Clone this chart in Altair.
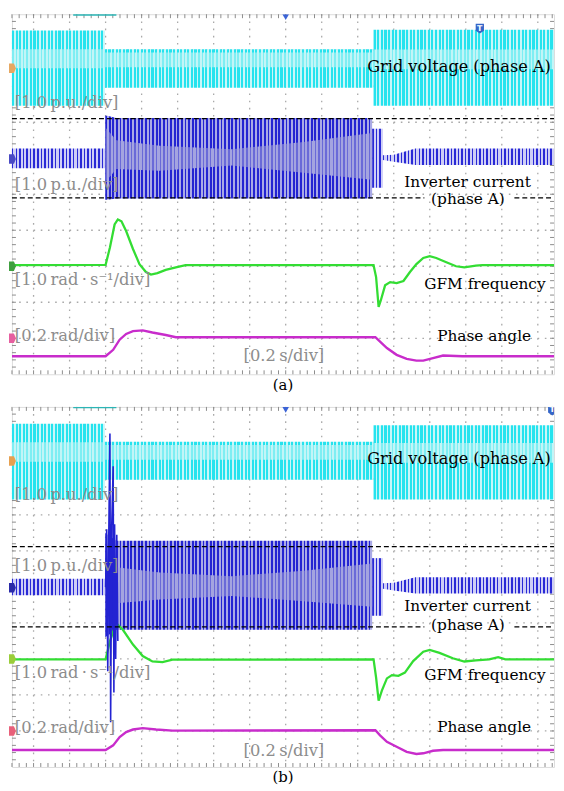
import altair as alt
import pandas as pd

# x in scope divisions (0.2 s/div), y in screen divisions (0 = bottom, 10 = top)
X0, X1 = -0.6, 14.45
W, H = 548, 364

# ---------------- grid voltage (phase A) envelopes, centre 8.5 div ----------
gv_x0 = [-0.6, 1.98, 9.44]
gv_x1 = [1.98, 9.44, 14.45]
gv_hi_a = [9.55, 9.03, 9.57]
gv_lo_a = [7.46, 7.96, 7.46]
gv_in_hi_a = [9.03, 8.94, 9.02]
gv_in_lo_a = [8.50, 8.53, 8.47]
gv_hi_b = [9.53, 9.03, 9.49]
gv_lo_b = [7.43, 7.98, 7.43]
gv_in_hi_b = [9.02, 8.94, 9.00]
gv_in_lo_b = [8.48, 8.53, 8.45]

# ---------------- inverter current envelopes ----------------------------------
ic_a = {
    "pre":   {"x": [-0.6, 1.99], "hi": [6.27, 6.27], "lo": [5.72, 5.72]},
    "fault": {"x": [1.99, 2.05, 2.3, 9.40], "hi": [7.18, 7.18, 7.12, 7.12], "lo": [4.85, 4.85, 4.88, 4.88]},
    "tail":  {"x": [9.40, 9.70], "hi": [6.82, 6.82], "lo": [5.18, 5.18]},
    "post":  {"x": [9.70, 10.0, 10.6, 14.45], "hi": [6.08, 6.10, 6.27, 6.27], "lo": [5.95, 5.90, 5.81, 5.81]},
}
ic_in_a = {"x": [2.0, 2.3, 3.5, 5.5, 7.5, 9.4],
           "hi": [6.85, 6.50, 6.35, 6.25, 6.45, 6.70],
           "lo": [5.35, 5.70, 5.65, 5.80, 5.60, 5.40]}
ic_b = {
    "pre":   {"x": [-0.6, 1.99], "hi": [5.23, 5.23], "lo": [4.77, 4.77]},
    "fault": {"x": [1.99, 2.3, 9.40], "hi": [6.5, 6.28, 6.28], "lo": [3.6, 3.81, 3.81]},
    "tail":  {"x": [9.40, 9.70], "hi": [5.8, 5.8], "lo": [4.2, 4.2]},
    "post":  {"x": [9.70, 10.0, 10.6, 14.45], "hi": [5.10, 5.12, 5.27, 5.27], "lo": [4.95, 4.90, 4.82, 4.82]},
}
ic_in_b = {"x": [2.3, 3.5, 5.5, 7.5, 9.4],
           "hi": [5.55, 5.40, 5.30, 5.45, 5.65],
           "lo": [4.55, 4.65, 4.75, 4.60, 4.45]}
spike_x = [2.0, 2.03, 2.06, 2.09, 2.12, 2.14, 2.17, 2.21, 2.23, 2.25, 2.28, 2.31, 2.34]
spike_y = [5.0, 6.6, 2.66, 6.6, 9.26, 1.24, 6.7, 8.35, 2.07, 6.74, 3.0, 6.45, 3.5]

# ---------------- GFM frequency (centre 3.0 div) ------------------------------
fq_x_a = [-0.6, 2.0, 2.12, 2.25, 2.34, 2.44, 2.57, 2.76, 2.94, 3.12, 3.26, 3.44, 3.67, 3.95, 4.22,
          9.44, 9.51, 9.58, 9.64, 9.76, 9.90, 10.08, 10.27, 10.45, 10.63, 10.82, 11.0, 11.18, 11.46,
          11.73, 11.96, 12.28, 12.46, 14.45]
fq_y_a = [3.03, 3.04, 3.52, 4.16, 4.30, 4.25, 3.98, 3.48, 3.06, 2.84, 2.77, 2.81, 2.90, 2.97, 3.03,
          3.03, 2.70, 1.87, 2.05, 2.47, 2.56, 2.53, 2.59, 2.84, 3.06, 3.23, 3.28, 3.23, 3.11,
          3.00, 2.97, 3.02, 3.03, 3.03]
fq_x_b = [-0.6, 2.0, 2.12, 2.25, 2.34, 2.48, 2.76, 3.03, 3.30, 3.58, 3.86,
          9.44, 9.51, 9.58, 9.67, 9.81, 9.95, 10.13, 10.31, 10.54, 10.82, 11.0, 11.27, 11.64,
          11.96, 12.28, 12.65, 12.9, 13.1, 14.45]
fq_y_b = [2.99, 2.99, 3.49, 3.87, 3.95, 3.81, 3.40, 3.08, 2.93, 2.91, 2.98,
          2.99, 2.48, 1.84, 2.12, 2.46, 2.55, 2.53, 2.62, 2.94, 3.20, 3.25, 3.17, 3.02,
          2.93, 2.96, 2.99, 3.05, 2.99, 2.99]

# ---------------- phase angle (centre 1.0 div) --------------------------------
pa_x_a = [-0.6, 2.0, 2.21, 2.39, 2.57, 2.76, 3.03, 3.30, 3.67, 3.95,
          9.49, 9.62, 9.81, 10.08, 10.36, 10.63, 10.82, 11.09, 11.37, 11.91, 14.45]
pa_y_a = [0.50, 0.50, 0.68, 0.96, 1.12, 1.20, 1.22, 1.16, 1.09, 1.03,
          1.03, 0.91, 0.73, 0.54, 0.43, 0.38, 0.38, 0.45, 0.52, 0.50, 0.50]
pa_x_b = [-0.6, 2.0, 2.21, 2.39, 2.57, 2.76, 3.03, 3.40, 3.86,
          9.49, 9.62, 9.81, 10.08, 10.36, 10.63, 10.82, 11.09, 11.37, 14.45]
pa_y_b = [0.47, 0.47, 0.60, 0.83, 0.97, 1.04, 1.08, 1.04, 1.01,
          1.02, 0.88, 0.70, 0.56, 0.42, 0.36, 0.38, 0.45, 0.47, 0.47]

# ---------------- current limit (±1.1 p.u.) dashed lines ----------------------
lim_a = [7.1, 4.9]
lim_b = [6.12, 3.89]
gap_x = [10.85, 13.35]     # break for the "(phase A)" label

# ---------------- channel offset markers (ch1..ch4) ---------------------------
ch_y_a = [8.5, 5.98, 3.0, 1.0]
ch_y_b = [8.5, 4.98, 3.0, 1.0]
ch_col_a = ["#e6a862", "#4a4ac4", "#3f9f3f", "#e65fa0"]
ch_col_b = ["#e6a050", "#2a2aa8", "#9acd3a", "#e8607a"]

# ---------------- scope graticule ---------------------------------------------
grid_x = list(range(0, 15))
grid_y = list(range(1, 10))
tick_x = [round(-0.6 + 0.2 * k, 2) for k in range(76)]
tick_y = [round(0.2 * k, 2) for k in range(1, 50)]

# ---------------- labels -------------------------------------------------------
lab_text = ["Grid voltage (phase A)", "Inverter current", "(phase A)", "GFM frequency", "Phase angle"]
scale_text = ["[1.0\u2009p.u./div]", "[1.0\u2009p.u./div]", "[1.0\u2009rad\u2009\u00b7\u2009s\u207b\u00b9/div]",
              "[0.2\u2009rad/div]"]
time_text = "[0.2\u2009s/div]"

FONT = "DejaVu Serif"
FS = 15.5
FS_GREY = 16.5
XS = alt.Scale(domain=[X0, X1], nice=False, zero=False)
YS = alt.Scale(domain=[0, 10], nice=False, zero=False)


def X(f="x"):
    return alt.X(f + ":Q", scale=XS, axis=None)


def Y(f="y"):
    return alt.Y(f + ":Q", scale=YS, axis=None)


def stripes(x0, x1, c_on, c_off, duty=0.55, per_div=10):
    n = max(1, int(round((x1 - x0) * per_div)))
    stops = []
    for i in range(n):
        a, b, c = i / n, (i + duty) / n, (i + 1) / n
        stops += [{"offset": a, "color": c_on}, {"offset": b, "color": c_on},
                  {"offset": b, "color": c_off}, {"offset": c, "color": c_off}]
    return {"gradient": "linear", "x1": 0, "x2": 1, "y1": 0, "y2": 0, "stops": stops}


def band(xs, his, los, c_on, c_off, duty=0.55):
    df = pd.DataFrame({"x": xs, "hi": his, "lo": los})
    return alt.Chart(df).mark_area(fill=stripes(min(xs), max(xs), c_on, c_off, duty)).encode(
        x=X(), y=Y("hi"), y2="lo:Q")


def trace(xs, ys, color, width=2.0):
    df = pd.DataFrame({"x": xs, "y": ys, "i": range(len(xs))})
    return alt.Chart(df).mark_line(color=color, strokeWidth=width, clip=True).encode(
        x=X(), y=Y(), order="i:Q")


def graticule():
    gx = pd.DataFrame({"x": grid_x})
    gy = pd.DataFrame({"y": grid_y})
    tx = pd.DataFrame({"x": tick_x})
    ty = pd.DataFrame({"y": tick_y})
    dot = dict(color="#a9a9a9", strokeWidth=1.3, strokeDash=[1.6, 5.68])
    tk = dict(color="#8c8c8c", strokeWidth=1)
    return [
        alt.Chart(gx).mark_rule(**dot).encode(x=X(), y=alt.value(0), y2=alt.value(H)),
        alt.Chart(gy).mark_rule(**dot).encode(y=Y(), x=alt.value(0), x2=alt.value(W)),
        alt.Chart(tx).mark_rule(**tk).encode(x=X(), y=alt.value(0), y2=alt.value(4)),
        alt.Chart(tx).mark_rule(**tk).encode(x=X(), y=alt.value(H - 4), y2=alt.value(H)),
        alt.Chart(ty).mark_rule(**tk).encode(y=Y(), x=alt.value(0), x2=alt.value(4)),
        alt.Chart(ty).mark_rule(**tk).encode(y=Y(), x=alt.value(W - 4), x2=alt.value(W)),
    ]


def panel(tag, gv, ic, ic_in, fq, pa, lim, lab_y, scale_y, time_y, ch_y, ch_col, spike=None,
          tmark=(12.39, 9.6)):
    layers = graticule()

    # grid voltage
    for i in range(3):
        layers.append(band([gv_x0[i], gv_x1[i]], [gv[0][i]] * 2, [gv[1][i]] * 2, "#25e3ee", "#c9f6f8", 0.6))
        layers.append(band([gv_x0[i], gv_x1[i]], [gv[2][i]] * 2, [gv[3][i]] * 2, "#7eeef3", "#c2f5f7", 0.5))
    # inverter current
    for k in ["pre", "fault", "tail", "post"]:
        s = ic[k]
        if k == "fault":
            layers.append(band(s["x"], s["hi"], s["lo"], "#2323d2", "#a9a9e6", 0.5))
        else:
            layers.append(band(s["x"], s["hi"], s["lo"], "#2a2ad6", "#cfcff6", 0.4))
    layers.append(band(ic_in["x"], ic_in["hi"], ic_in["lo"], "#6a6ad8", "#a4a4e0", 0.4))

    layers.append(trace(fq[0], fq[1], "#33dd33", 2.3))
    layers.append(trace(pa[0], pa[1], "#c82ccb", 2.4))
    if spike is not None:
        layers.append(trace(spike[0], spike[1], "#2323d2", 1.6))

    # dashed current limits
    dash = pd.DataFrame({"x": [X0, X0, gap_x[1]], "x2": [X1, gap_x[0], X1], "y": [lim[0], lim[1], lim[1]]})
    layers.append(alt.Chart(dash).mark_rule(color="black", strokeDash=[5, 3], strokeWidth=1.2).encode(
        x=X(), x2="x2:Q", y=Y()))

    # black labels
    lab = pd.DataFrame({"x": [14.36, 12.05, 12.06, 12.53, 12.51], "y": lab_y, "t": lab_text})
    layers.append(alt.Chart(lab.iloc[:1]).mark_text(align="right", baseline="middle", font=FONT, fontSize=FS + 0.8,
                                                    color="black").encode(x=X(), y=Y(), text="t:N"))
    layers.append(alt.Chart(lab.iloc[1:]).mark_text(align="center", baseline="middle", font=FONT, fontSize=FS,
                                                    color="black").encode(x=X(), y=Y(), text="t:N"))
    # grey scale labels
    sc = pd.DataFrame({"x": [-0.52] * 4, "y": scale_y, "t": scale_text})
    layers.append(alt.Chart(sc).mark_text(align="left", baseline="middle", font=FONT, fontSize=FS_GREY,
                                          color="#8d8d8d").encode(x=X(), y=Y(), text="t:N"))
    tm = pd.DataFrame({"x": [6.95], "y": [time_y], "t": [time_text]})
    layers.append(alt.Chart(tm).mark_text(align="center", baseline="middle", font=FONT, fontSize=FS_GREY,
                                          color="#8d8d8d").encode(x=X(), y=Y(), text="t:N"))

    # scope markers: trigger position, cursor bar, T marker, channel tags
    trig = pd.DataFrame({"x": [7.0], "y": [9.92]})
    layers.append(alt.Chart(trig).mark_point(shape="triangle-down", filled=True, size=45, color="#3b63d6",
                                             opacity=1, clip=True).encode(x=X(), y=Y()))
    bar = pd.DataFrame({"x": [1.1], "x2": [2.3], "y": [9.995]})
    layers.append(alt.Chart(bar).mark_rule(color="#2bb6b6", strokeWidth=2.5, clip=True).encode(
        x=X(), x2="x2:Q", y=Y()))
    tmk = pd.DataFrame({"x": [tmark[0]], "y": [tmark[1]], "t": ["T"]})
    layers.append(alt.Chart(tmk).mark_point(shape="M-1,-1.2L1,-1.2L1,0.5L0,1.2L-1,0.5Z", filled=True, size=70,
                                            color="#3566c9", opacity=1, clip=True).encode(x=X(), y=Y()))
    layers.append(alt.Chart(tmk).mark_text(color="white", fontSize=8, font="DejaVu Sans", fontWeight="bold",
                                           baseline="middle", clip=True).encode(x=X(), y=Y(), text="t:N"))
    ch = pd.DataFrame({"x": [X0] * 4, "y": ch_y, "c": ch_col})
    layers.append(alt.Chart(ch).mark_point(shape="M-0.75,-1.2L0.5,-1.2L1,0L0.5,1.2L-0.75,1.2Z", filled=True,
                                           size=64, opacity=1).encode(
        x=X(), y=Y(), color=alt.Color("c:N", scale=None)))

    return alt.layer(*layers).properties(
        width=W, height=H,
        title=alt.TitleParams(tag, orient="bottom", font=FONT, fontSize=15, fontWeight="normal", offset=3,
                              color="black"),
    )


pa_ = panel("(a)", (gv_hi_a, gv_lo_a, gv_in_hi_a, gv_in_lo_a), ic_a, ic_in_a, (fq_x_a, fq_y_a), (pa_x_a, pa_y_a),
            lim_a, [8.53, 5.35, 4.86, 2.51, 1.07], [7.54, 5.26, 2.61, 1.07], 0.51, ch_y_a, ch_col_a)
pb_ = panel("(b)", (gv_hi_b, gv_lo_b, gv_in_hi_b, gv_in_lo_b), ic_b, ic_in_b, (fq_x_b, fq_y_b), (pa_x_b, pa_y_b),
            lim_b, [8.55, 4.47, 3.93, 2.55, 1.11], [7.56, 5.59, 2.62, 1.09], 0.43, ch_y_b, ch_col_b,
            spike=(spike_x, spike_y), tmark=(14.4, 9.9))

chart = alt.vconcat(pa_, pb_, spacing=11).properties(
    padding={"left": 0, "top": 0, "right": 0, "bottom": 0}
).configure_view(stroke="#9b6a36", strokeWidth=2).configure(background="white")

chart.save("out.html", embed_options={"renderer": "svg", "actions": False})
